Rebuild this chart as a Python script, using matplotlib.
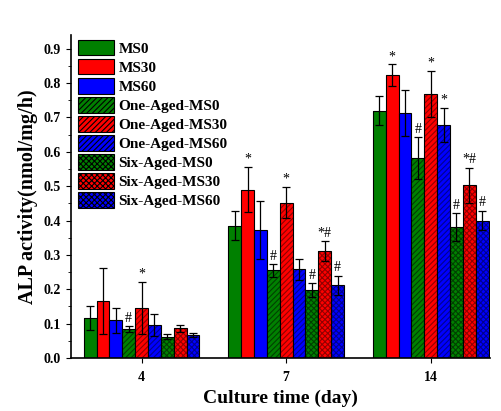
import numpy as np
import matplotlib
matplotlib.use('Agg')
import matplotlib.pyplot as plt
from matplotlib.patches import Patch
from matplotlib.ticker import MultipleLocator

plt.rcParams['font.family'] = ['Liberation Serif', 'DejaVu Serif']
plt.rcParams['font.weight'] = 'bold'

days = ['4', '7', '14']
groups = ['MS0', 'MS30', 'MS60',
          'One-Aged-MS0', 'One-Aged-MS30', 'One-Aged-MS60',
          'Six-Aged-MS0', 'Six-Aged-MS30', 'Six-Aged-MS60']

# mean values per group, one entry per culture day
ms0 = [0.117, 0.385, 0.72]
ms30 = [0.166, 0.49, 0.822]
ms60 = [0.11, 0.373, 0.713]
one_ms0 = [0.085, 0.255, 0.582]
one_ms30 = [0.146, 0.452, 0.768]
one_ms60 = [0.097, 0.258, 0.678]
six_ms0 = [0.062, 0.197, 0.381]
six_ms30 = [0.086, 0.311, 0.503]
six_ms60 = [0.068, 0.212, 0.4]

# standard deviations
ms0_err = [0.035, 0.042, 0.043]
ms30_err = [0.097, 0.066, 0.032]
ms60_err = [0.036, 0.085, 0.067]
one_ms0_err = [0.008, 0.018, 0.061]
one_ms30_err = [0.075, 0.046, 0.067]
one_ms60_err = [0.032, 0.031, 0.049]
six_ms0_err = [0.008, 0.02, 0.04]
six_ms30_err = [0.01, 0.029, 0.051]
six_ms60_err = [0.006, 0.028, 0.029]

# significance marks above bars
ms0_sig = ['', '', '']
ms30_sig = ['', '*', '*']
ms60_sig = ['', '', '']
one_ms0_sig = ['#', '#', '#']
one_ms30_sig = ['*', '*', '*']
one_ms60_sig = ['', '', '*']
six_ms0_sig = ['', '#', '#']
six_ms30_sig = ['', '*#', '*#']
six_ms60_sig = ['', '#', '#']

means = [ms0, ms30, ms60, one_ms0, one_ms30, one_ms60, six_ms0, six_ms30, six_ms60]
errs = [ms0_err, ms30_err, ms60_err, one_ms0_err, one_ms30_err, one_ms60_err,
        six_ms0_err, six_ms30_err, six_ms60_err]
sigs = [ms0_sig, ms30_sig, ms60_sig, one_ms0_sig, one_ms30_sig, one_ms60_sig,
        six_ms0_sig, six_ms30_sig, six_ms60_sig]

colors = ['#008000', '#ff0000', '#0000ff'] * 3
hatch_colors = ['#004000', '#900000', '#000090'] * 3
hatches = [''] * 3 + ['//////'] * 3 + ['xxxxxx'] * 3

fig = plt.figure(figsize=(5.02, 4.11), dpi=100)
ax = fig.add_axes([0.141, 0.129, 0.835, 0.786])

x = np.arange(len(days))
w = 0.089
plt.rcParams['hatch.linewidth'] = 0.8

for i in range(len(groups)):
    pos = x + (i - 4) * w
    ax.bar(pos, means[i], w, color=colors[i], hatch=hatches[i],
           edgecolor=hatch_colors[i], linewidth=0)
    ax.bar(pos, means[i], w, fill=False, edgecolor='black', linewidth=0.8)
    ax.errorbar(pos, means[i], yerr=errs[i], fmt='none', ecolor='black',
                elinewidth=0.9, capsize=3, capthick=0.9)
    for p, m, e, s in zip(pos, means[i], errs[i], sigs[i]):
        if s:
            ax.text(p, m + e + 0.004, s, ha='center', va='bottom',
                    fontsize=10, fontweight='normal')

handles = [Patch(facecolor=colors[i], edgecolor='black', hatch=hatches[i],
                 linewidth=0.8, label=groups[i]) for i in range(len(groups))]
ax.legend(handles=handles, loc='upper left', frameon=False, fontsize=11,
          handlelength=2.35, handleheight=1.2, labelspacing=0.2,
          handletextpad=0.3, borderpad=0, borderaxespad=0,
          bbox_to_anchor=(0.017, 0.985))

ax.set_xlim(-0.49, 2.41)
ax.set_ylim(0, 0.94)
ax.set_xticks(x)
ax.set_xticklabels(days)
ax.yaxis.set_major_locator(MultipleLocator(0.1))
ax.yaxis.set_minor_locator(MultipleLocator(0.05))
ax.tick_params(axis='both', labelsize=10, direction='out')
ax.tick_params(axis='x', pad=6)
for lab in ax.get_xticklabels() + ax.get_yticklabels():
    lab.set_fontweight('bold')

ax.spines['top'].set_visible(False)
ax.spines['right'].set_visible(False)
ax.spines['left'].set_linewidth(1.2)
ax.spines['bottom'].set_linewidth(1.2)

ax.set_xlabel('Culture time (day)', fontsize=14, fontweight='bold', labelpad=4)
ax.set_ylabel('ALP activity(nmol/mg/h)', fontsize=14.5, fontweight='bold', labelpad=4)

fig.savefig('out.png', dpi=100)
